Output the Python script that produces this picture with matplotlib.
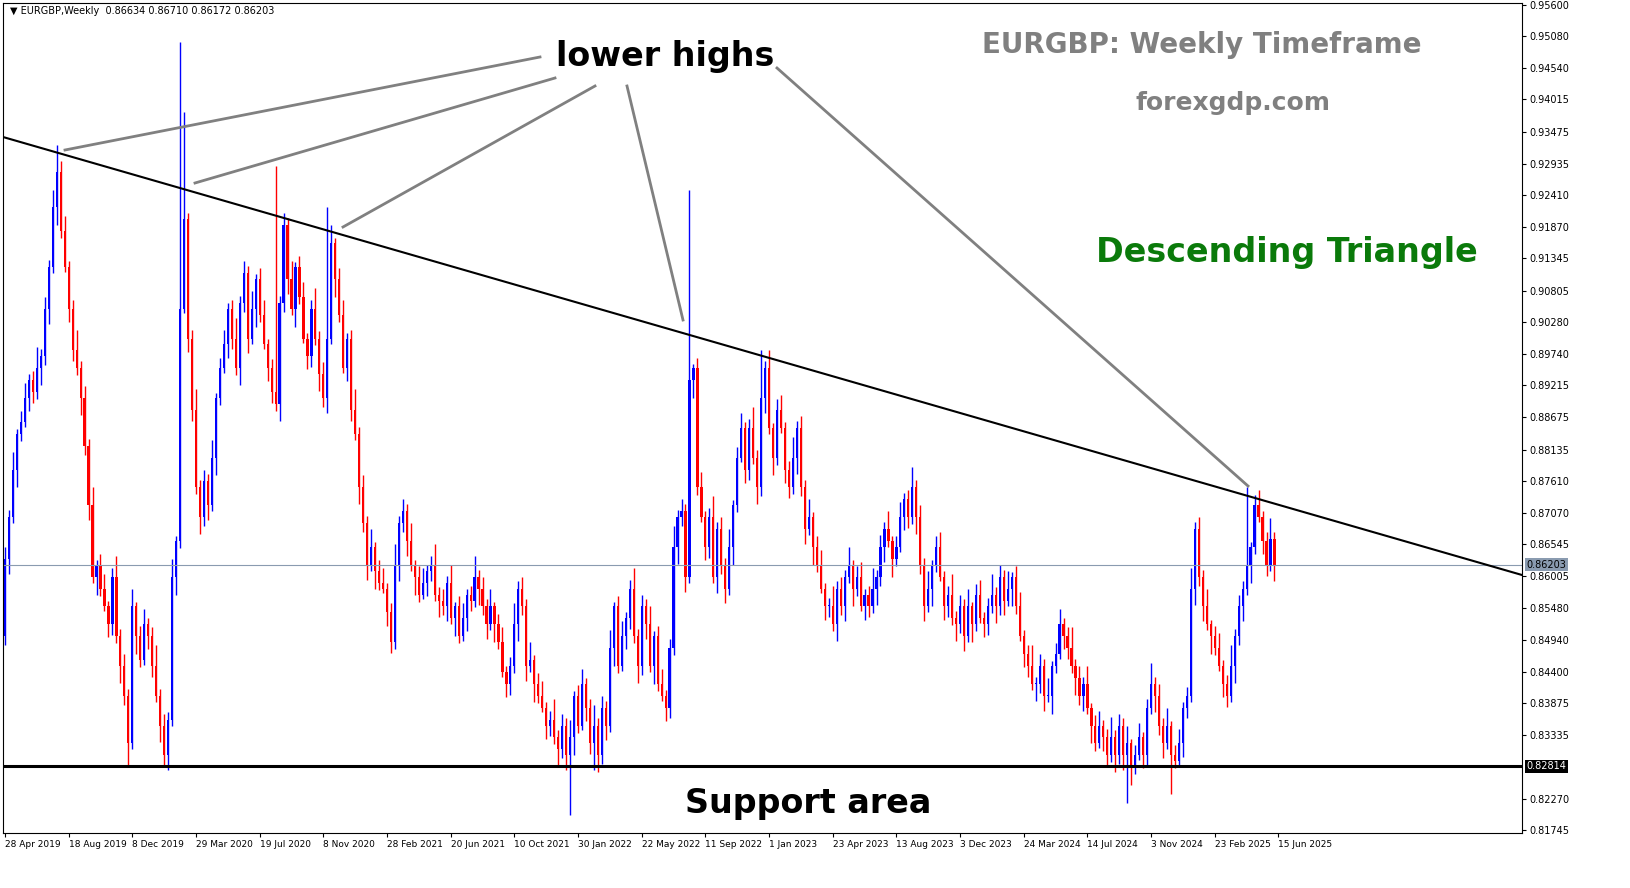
import matplotlib
matplotlib.use("Agg")
import matplotlib.pyplot as plt

closes = [
 0.863, 0.870, 0.878, 0.884, 0.886,
 0.890, 0.893, 0.891, 0.895, 0.897,
 0.905, 0.912, 0.922, 0.928,
 0.918, 0.912, 0.905, 0.898, 0.895,
 0.890, 0.882, 0.872, 0.860, 0.862,
 0.858, 0.855, 0.852, 0.860, 0.850,
 0.845, 0.840, 0.832,
 0.855, 0.850, 0.846, 0.852,
 0.850, 0.845, 0.840, 0.835, 0.830,
 0.836, 0.860, 0.866,
 0.905, 0.920, 0.900,
 0.888, 0.875, 0.870, 0.876, 0.872,
 0.880, 0.890, 0.895, 0.899, 0.905,
 0.900, 0.895, 0.906, 0.911, 0.900,
 0.905, 0.910, 0.904, 0.899, 0.895,
 0.891, 0.889, 0.906, 0.919, 0.910,
 0.905, 0.912, 0.907, 0.900, 0.897,
 0.905, 0.900, 0.894, 0.890, 0.900,
 0.916, 0.910, 0.904, 0.895, 0.900,
 0.888, 0.884, 0.875, 0.869, 0.862,
 0.865, 0.861, 0.859, 0.858, 0.854,
 0.849, 0.862, 0.869, 0.871, 0.866,
 0.862, 0.860, 0.857, 0.859, 0.861,
 0.862, 0.857, 0.856, 0.855, 0.859,
 0.853, 0.855, 0.850, 0.853, 0.857,
 0.856, 0.860, 0.858, 0.855, 0.852,
 0.855, 0.852, 0.849, 0.844, 0.842,
 0.845, 0.852, 0.858, 0.855, 0.845,
 0.846, 0.842, 0.840, 0.838, 0.835,
 0.836, 0.833, 0.831, 0.835, 0.830,
 0.833, 0.840, 0.835, 0.842, 0.838,
 0.832, 0.835, 0.830, 0.838, 0.835,
 0.848, 0.855, 0.845, 0.850, 0.853,
 0.858, 0.850, 0.845, 0.855, 0.852,
 0.845, 0.850, 0.842, 0.840, 0.838,
 0.848, 0.865, 0.870, 0.871, 0.860,
 0.893, 0.895, 0.875, 0.870, 0.865,
 0.870, 0.860, 0.868, 0.862, 0.858,
 0.865, 0.872, 0.880, 0.885, 0.878,
 0.885, 0.880, 0.875, 0.890, 0.895,
 0.885, 0.880, 0.888, 0.885, 0.878,
 0.875, 0.880, 0.885, 0.875, 0.868,
 0.870, 0.865, 0.862, 0.858, 0.855,
 0.855, 0.852, 0.858, 0.855, 0.860,
 0.862, 0.858, 0.860, 0.855, 0.857,
 0.855, 0.858, 0.860, 0.865, 0.868,
 0.866, 0.863, 0.865, 0.870, 0.873,
 0.870, 0.875, 0.870, 0.862, 0.855,
 0.858, 0.862, 0.865, 0.860, 0.855,
 0.857, 0.853, 0.852, 0.855, 0.850,
 0.855, 0.852, 0.857, 0.853, 0.852,
 0.855, 0.857, 0.855, 0.860, 0.856,
 0.858, 0.860, 0.855, 0.850, 0.847,
 0.845, 0.842, 0.842, 0.845, 0.840,
 0.840, 0.845, 0.847, 0.852, 0.850,
 0.848, 0.845, 0.843, 0.840, 0.842,
 0.838, 0.835, 0.832, 0.835, 0.833,
 0.830, 0.833, 0.830, 0.835, 0.830,
 0.832, 0.828, 0.830, 0.833, 0.830,
 0.838, 0.842, 0.840, 0.835, 0.832,
 0.835, 0.830, 0.829, 0.832, 0.838,
 0.840, 0.858, 0.868, 0.860, 0.855,
 0.852, 0.850, 0.848, 0.845, 0.842,
 0.840, 0.845, 0.850, 0.855, 0.858,
 0.862, 0.865, 0.872, 0.870, 0.866,
 0.862, 0.86634, 0.86203,
]
first_open = 0.850
wick_up = [0.0020, 0.0012, 0.0030, 0.0008, 0.0018, 0.0025, 0.0010, 0.0015, 0.0035, 0.0012]
wick_dn = [0.0015, 0.0025, 0.0010, 0.0030, 0.0012, 0.0008, 0.0022, 0.0018, 0.0011, 0.0028]
special_highs = {13: 0.9325, 44: 0.9498, 45: 0.938, 68: 0.929, 81: 0.922, 172: 0.925,
                 190: 0.898, 312: 0.875, 320: 0.86710}
special_lows = {31: 0.828, 40: 0.828, 142: 0.820, 148: 0.8275, 282: 0.822, 293: 0.8235,
                320: 0.86172}

date_labels = ["28 Apr 2019", "18 Aug 2019", "8 Dec 2019", "29 Mar 2020", "19 Jul 2020",
               "8 Nov 2020", "28 Feb 2021", "20 Jun 2021", "10 Oct 2021", "30 Jan 2022",
               "22 May 2022", "11 Sep 2022", "1 Jan 2023", "23 Apr 2023", "13 Aug 2023",
               "3 Dec 2023", "24 Mar 2024", "14 Jul 2024", "3 Nov 2024", "23 Feb 2025",
               "15 Jun 2025"]
price_ticks = [0.95600, 0.95080, 0.94540, 0.94015, 0.93475, 0.92935, 0.92410, 0.91870,
               0.91345, 0.90805, 0.90280, 0.89740, 0.89215, 0.88675, 0.88135, 0.87610,
               0.87070, 0.86545, 0.86005, 0.85480, 0.84940, 0.84400, 0.83875, 0.83335,
               0.82270, 0.81745]
support_price = 0.82814
current_price = 0.86203

W, H = 1631, 888
fig = plt.figure(figsize=(W/100, H/100), dpi=100)
fig.patch.set_facecolor("white")
ax = fig.add_axes([3/W, (H-833)/H, (1522-3)/W, 830/H])
xmin, xmax = -0.5, 381.2
ymin, ymax = 0.81696, 0.95634
ax.set_xlim(xmin, xmax); ax.set_ylim(ymin, ymax)

def px(x, y):
    return (xmin + (x-3)/(1522-3)*(xmax-xmin), ymax - (y-3)/830*(ymax-ymin))

opens = [first_open] + closes[:-1]
for i, (o, c) in enumerate(zip(opens, closes)):
    hi = special_highs.get(i, max(o, c) + wick_up[i % 10])
    lo = special_lows.get(i, min(o, c) - wick_dn[i % 10])
    col = "#0000ff" if c >= o else "#ff0000"
    ax.vlines(i, lo, hi, color=col, lw=1)
    ax.bar(i, max(abs(c-o), 0.0002), bottom=min(o, c), width=0.55, color=col, lw=0)

ax.axhline(current_price, color="#8a9bb0", lw=0.8)
ax.axhline(support_price, color="black", lw=2.2)
a, b = px(3, 137), px(1522, 575)
ax.plot([a[0], b[0]], [a[1], b[1]], color="black", lw=1.5)

for (sx, sy), (ex, ey) in [((540, 57), (65, 150)), ((555, 78), (195, 183)),
                           ((595, 86), (343, 227)), ((627, 86), (683, 320)),
                           ((777, 68), (1248, 486))]:
    p, q = px(sx, sy), px(ex, ey)
    ax.plot([p[0], q[0]], [p[1], q[1]], color="#808080", lw=2)

ax.yaxis.tick_right()
ax.set_yticks(price_ticks)
ax.set_yticklabels([f"{v:.5f}" for v in price_ticks], fontsize=7)
ax.set_xticks([16*k for k in range(len(date_labels))])
ax.set_xticklabels(date_labels, fontsize=6.5, ha="left")
ax.tick_params(length=3, pad=2)
for s in ax.spines.values():
    s.set_linewidth(0.8)

for val, fc, tc in [(support_price, "black", "white"), (current_price, "#8a9bb0", "black")]:
    ax.text(1.003, val, f"{val:.5f}", transform=ax.get_yaxis_transform(), fontsize=7,
            va="center", ha="left", color=tc,
            bbox=dict(boxstyle="square,pad=0.15", fc=fc, ec="none"))

ax.text(*px(10, 11), "▼ EURGBP,Weekly  0.86634 0.86710 0.86172 0.86203", fontsize=7, va="center")
ax.text(*px(665, 56), "lower highs", fontsize=24, fontweight="bold", ha="center", va="center")
ax.text(*px(1202, 45), "EURGBP: Weekly Timeframe", fontsize=20, fontweight="bold",
        color="#808080", ha="center", va="center")
ax.text(*px(1233, 103), "forexgdp.com", fontsize=18, fontweight="bold",
        color="#808080", ha="center", va="center")
ax.text(*px(1287, 252), "Descending Triangle", fontsize=24, fontweight="bold",
        color="#0a7a0a", ha="center", va="center")
ax.text(*px(808, 803), "Support area", fontsize=24, fontweight="bold", ha="center", va="center")

fig.savefig("out.png", dpi=100)
